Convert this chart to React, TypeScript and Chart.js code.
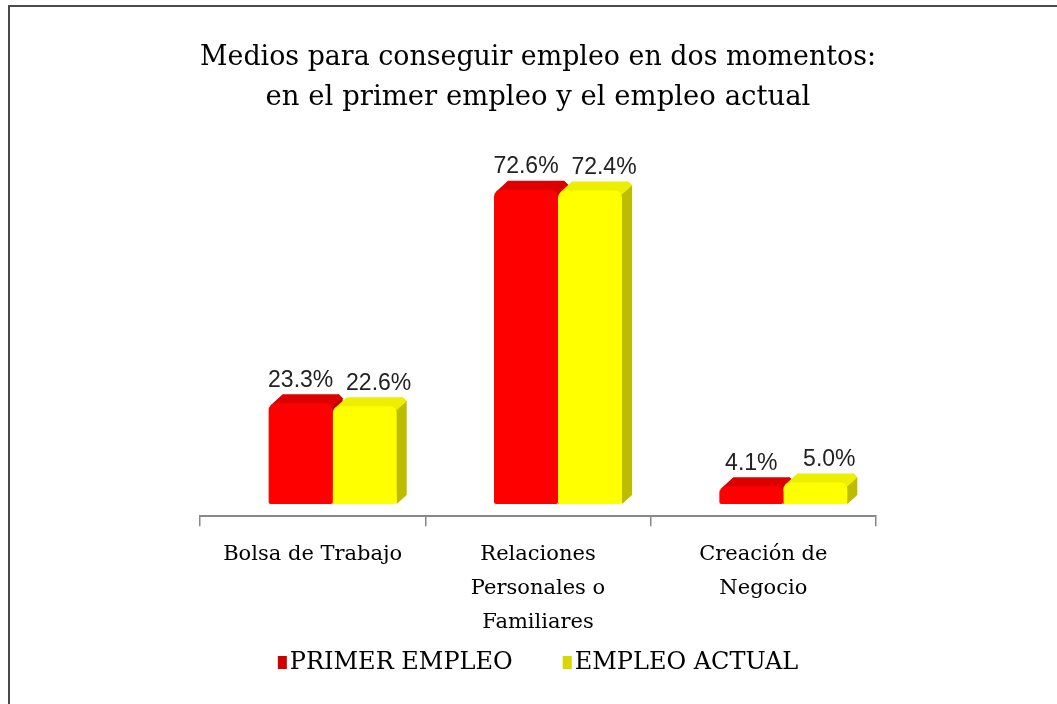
import React, { useEffect, useRef } from "react";
import { Chart, registerables } from "chart.js";

Chart.register(...registerables);

const categories: string[][] = [
  ["Bolsa de Trabajo"],
  ["Relaciones", "Personales o", "Familiares"],
  ["Creación de", "Negocio"],
];
const primerEmpleo: number[] = [23.3, 72.6, 4.1];
const empleoActual: number[] = [22.6, 72.4, 5.0];
const seriesNames: string[] = ["PRIMER EMPLEO", "EMPLEO ACTUAL"];
const titleLines: string[] = [
  "Medios para conseguir empleo en dos momentos:",
  "en el primer empleo y el empleo actual",
];

const FRONT = ["#ff0000", "#ffff00"];
const TOP = ["#dd0000", "#eeee00"];
const SIDE = ["#b80000", "#bcbc00"];
const LEGEND_BOX = ["#d00000", "#d8d800"];
const SHIFT = 20;
const DX = 10;
const DY = -9;
const LABEL_OFFSET = [0, 14];

const depthPlugin = {
  id: "depth3d",
  beforeDatasetsDraw(chart: any) {
    const ctx = chart.ctx;
    ctx.save();
    ctx.translate(SHIFT, 0);
    chart.data.datasets.forEach((ds: any, di: number) => {
      const meta = chart.getDatasetMeta(di);
      meta.data.forEach((bar: any) => {
        const { x, y, base, width } = bar.getProps(["x", "y", "base", "width"], true);
        const l = x - width / 2;
        const r = x + width / 2;
        ctx.fillStyle = SIDE[di];
        ctx.beginPath();
        ctx.moveTo(r - 4, y);
        ctx.lineTo(r - 4 + DX, y + DY);
        ctx.lineTo(r + DX, y + DY + 4);
        ctx.lineTo(r + DX, base + DY);
        ctx.lineTo(r, base);
        ctx.closePath();
        ctx.fill();
        ctx.fillStyle = TOP[di];
        ctx.beginPath();
        ctx.moveTo(l + 2, y + 2);
        ctx.lineTo(l + DX + 4, y + DY);
        ctx.lineTo(r + DX - 4, y + DY);
        ctx.lineTo(r + DX, y + DY + 4);
        ctx.lineTo(r, y + 4);
        ctx.closePath();
        ctx.fill();
      });
    });
  },
  afterDatasetsDraw(chart: any) {
    const ctx = chart.ctx;
    ctx.restore();
    ctx.save();
    ctx.font = "23px 'Liberation Sans'";
    ctx.fillStyle = "#222";
    ctx.textAlign = "center";
    ctx.textBaseline = "middle";
    chart.data.datasets.forEach((ds: any, di: number) => {
      const meta = chart.getDatasetMeta(di);
      meta.data.forEach((bar: any, i: number) => {
        const v = ds.data[i];
        ctx.fillText(v.toFixed(1) + "%", bar.x + SHIFT + LABEL_OFFSET[di], bar.y + DY - 14);
      });
    });
    ctx.restore();
  },
  afterDraw(chart: any) {
    const ctx = chart.ctx;
    const area = chart.chartArea;
    ctx.save();
    ctx.font = "24px 'DejaVu Serif'";
    ctx.textBaseline = "middle";
    ctx.textAlign = "left";
    const boxW = 9;
    const gap = 3;
    const itemGap = 50;
    const names = chart.data.datasets.map((d: any) => d.label);
    const widths = names.map((n: string) => boxW + gap + ctx.measureText(n).width);
    const total = widths.reduce((a: number, b: number) => a + b, 0) + itemGap * (names.length - 1);
    let x = (area.left + area.right) / 2 - total / 2;
    const cy = 663;
    names.forEach((n: string, i: number) => {
      ctx.fillStyle = LEGEND_BOX[i];
      ctx.fillRect(x, cy - 7, boxW, 13);
      ctx.fillStyle = "#000";
      ctx.fillText(n, x + boxW + gap, cy);
      x += widths[i] + itemGap;
    });
    ctx.restore();
  },
};

export default function App() {
  const ref = useRef<HTMLCanvasElement | null>(null);
  useEffect(() => {
    if (!ref.current) return;
    const chart = new Chart(ref.current, {
      type: "bar",
      data: {
        labels: categories,
        datasets: [
          {
            label: seriesNames[0],
            data: primerEmpleo,
            backgroundColor: FRONT[0],
            borderRadius: { topLeft: 7, topRight: 7, bottomLeft: 2, bottomRight: 2 },
            borderSkipped: false,
            barPercentage: 1,
            categoryPercentage: 0.568,
          },
          {
            label: seriesNames[1],
            data: empleoActual,
            backgroundColor: FRONT[1],
            borderRadius: { topLeft: 7, topRight: 7, bottomLeft: 2, bottomRight: 2 },
            borderSkipped: false,
            barPercentage: 1,
            categoryPercentage: 0.568,
          },
        ],
      },
      options: {
        responsive: false,
        animation: false,
        layout: { padding: { left: 200, right: 181, top: 0, bottom: 53 } },
        plugins: {
          title: {
            display: true,
            text: titleLines,
            color: "#000",
            font: { family: "'DejaVu Serif'", size: 27.5, weight: "normal", lineHeight: 1.45 },
            padding: { top: 38, bottom: 20 },
          },
          legend: { display: false },
          tooltip: { enabled: false },
        },
        scales: {
          x: {
            grid: {
              display: true,
              offset: true,
              drawOnChartArea: false,
              drawTicks: true,
              tickLength: 10,
              color: "#888",
              lineWidth: 1.5,
            },
            border: { display: true, color: "#888", width: 2 },
            ticks: {
              color: "#000",
              maxRotation: 0,
              autoSkip: false,
              padding: 12,
              font: { family: "'DejaVu Serif'", size: 21, lineHeight: 1.6 },
            },
          },
          y: {
            display: false,
            min: -2.8,
            max: 84.6,
          },
        },
      },
      plugins: [depthPlugin],
    });
    return () => chart.destroy();
  }, []);
  return (
    <div style={{ position: "fixed", left: 0, top: 0, width: 1057, height: 704, background: "#fff", overflow: "hidden" }}>
      <div
        style={{
          position: "absolute",
          left: 8,
          top: 5,
          width: 1200,
          height: 900,
          border: "2px solid #4a4a4a",
        }}
      />
      <canvas ref={ref} width={1057} height={704} style={{ position: "absolute", left: 0, top: 0 }} />
    </div>
  );
}
